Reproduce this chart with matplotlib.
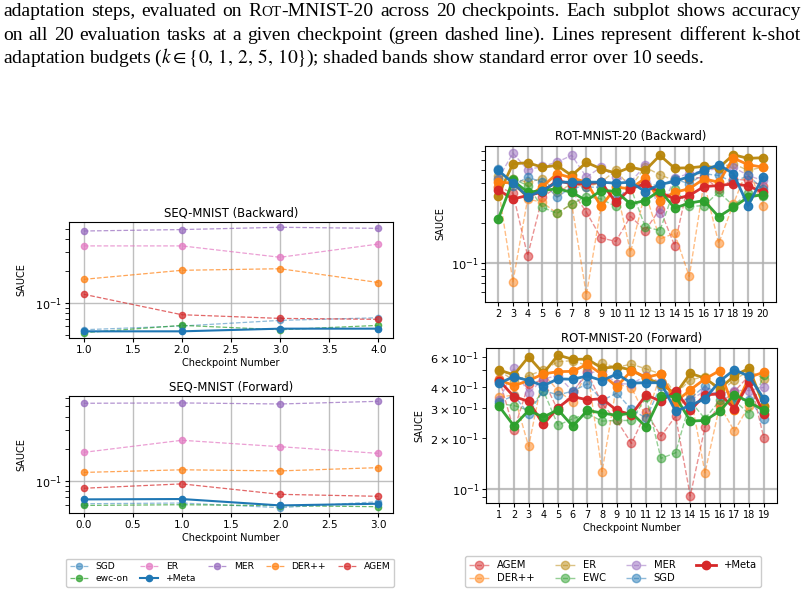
import numpy as np
import matplotlib
matplotlib.use('Agg')
import matplotlib.pyplot as plt
from matplotlib.lines import Line2D

W, H = 804, 593

# ---------------- SEQ-MNIST values ----------------
SEQ_BWD_X = [1.0, 2.0, 3.0, 4.0]
SEQ_BWD_SGD = [0.0556, 0.0603, 0.0681, 0.0721]
SEQ_BWD_EWC = [0.0521, 0.0611, 0.0556, 0.0611]
SEQ_BWD_ER = [0.343, 0.343, 0.268, 0.357]
SEQ_BWD_MER = [0.474, 0.489, 0.514, 0.502]
SEQ_BWD_DER = [0.166, 0.202, 0.209, 0.155]
SEQ_BWD_AGEM = [0.120, 0.077, 0.0711, 0.0697]
SEQ_BWD_META = [0.0537, 0.0537, 0.0569, 0.0569]

SEQ_FWD_X = [0.0, 1.0, 2.0, 3.0]
SEQ_FWD_SGD = [0.0611, 0.0620, 0.0561, 0.0638]
SEQ_FWD_EWC = [0.0589, 0.0598, 0.0586, 0.0573]
SEQ_FWD_ER = [0.185, 0.240, 0.209, 0.181]
SEQ_FWD_MER = [0.533, 0.537, 0.525, 0.556]
SEQ_FWD_DER = [0.120, 0.127, 0.124, 0.133]
SEQ_FWD_AGEM = [0.0853, 0.0937, 0.0748, 0.0717]
SEQ_FWD_META = [0.0671, 0.0676, 0.0589, 0.0611]

# ---------------- ROT-MNIST-20 values ----------------
ROT_BWD_X = list(range(2, 21))
ROT_BWD_AGEM = [0.376, 0.335, 0.113, 0.313, 0.372, 0.351, 0.241, 0.154, 0.145, 0.224,
                0.175, 0.255, 0.135, 0.430, 0.443, 0.362, 0.430, 0.418, 0.383]
ROT_BWD_DER = [0.372, 0.0718, 0.303, 0.286, 0.236, 0.278, 0.0572, 0.266, 0.383, 0.120,
               0.341, 0.151, 0.167, 0.0788, 0.406, 0.140, 0.278, 0.527, 0.267]
ROT_BWD_ER = [0.450, 0.430, 0.406, 0.430, 0.341, 0.394, 0.372, 0.406, 0.498, 0.372,
              0.527, 0.461, 0.418, 0.430, 0.498, 0.527, 0.559, 0.498, 0.527]
ROT_BWD_EWC = [0.430, 0.430, 0.383, 0.262, 0.236, 0.278, 0.316, 0.303, 0.266, 0.372,
               0.187, 0.175, 0.362, 0.266, 0.270, 0.341, 0.270, 0.335, 0.322]
ROT_BWD_MER = [0.430, 0.673, 0.503, 0.534, 0.575, 0.647, 0.443, 0.527, 0.443, 0.406,
               0.543, 0.236, 0.438, 0.470, 0.498, 0.512, 0.527, 0.456, 0.418]
ROT_BWD_SGD = [0.512, 0.383, 0.443, 0.406, 0.313, 0.372, 0.372, 0.372, 0.303, 0.372,
               0.394, 0.383, 0.430, 0.394, 0.470, 0.456, 0.406, 0.456, 0.362]
ROT_BWD_ER_META = [0.322, 0.559, 0.569, 0.527, 0.543, 0.456, 0.572, 0.512, 0.475, 0.527,
                   0.498, 0.647, 0.518, 0.521, 0.534, 0.521, 0.654, 0.614, 0.621]
ROT_BWD_DER_META = [0.406, 0.400, 0.313, 0.376, 0.470, 0.438, 0.406, 0.266, 0.372, 0.362,
                    0.435, 0.295, 0.341, 0.362, 0.430, 0.406, 0.617, 0.550, 0.527]
ROT_BWD_SGD_META = [0.498, 0.401, 0.316, 0.351, 0.406, 0.406, 0.406, 0.406, 0.399, 0.406,
                    0.345, 0.390, 0.411, 0.448, 0.498, 0.550, 0.470, 0.270, 0.443]
ROT_BWD_AGEM_META = [0.355, 0.303, 0.322, 0.341, 0.418, 0.394, 0.394, 0.406, 0.286, 0.362,
                     0.394, 0.341, 0.303, 0.322, 0.376, 0.383, 0.394, 0.381, 0.341]
ROT_BWD_EWC_META = [0.214, 0.418, 0.341, 0.351, 0.362, 0.341, 0.295, 0.351, 0.347, 0.278,
                    0.295, 0.351, 0.259, 0.282, 0.295, 0.223, 0.262, 0.313, 0.327]

ROT_FWD_X = list(range(1, 20))
ROT_FWD_AGEM = [0.446, 0.222, 0.417, 0.440, 0.291, 0.372, 0.488, 0.318, 0.254, 0.186,
                0.285, 0.205, 0.269, 0.0914, 0.233, 0.318, 0.376, 0.466, 0.201]
ROT_FWD_DER = [0.348, 0.359, 0.179, 0.477, 0.381, 0.326, 0.503, 0.127, 0.417, 0.395,
               0.266, 0.477, 0.291, 0.364, 0.125, 0.311, 0.220, 0.311, 0.311]
ROT_FWD_ER = [0.499, 0.436, 0.466, 0.503, 0.563, 0.571, 0.533, 0.550, 0.522, 0.545,
              0.510, 0.477, 0.364, 0.440, 0.460, 0.372, 0.440, 0.499, 0.446]
ROT_FWD_EWC = [0.318, 0.311, 0.291, 0.381, 0.238, 0.260, 0.278, 0.252, 0.254, 0.254,
               0.348, 0.152, 0.164, 0.330, 0.260, 0.333, 0.333, 0.278, 0.471]
ROT_FWD_MER = [0.333, 0.517, 0.368, 0.446, 0.466, 0.376, 0.481, 0.499, 0.417, 0.417,
               0.466, 0.426, 0.348, 0.333, 0.381, 0.364, 0.381, 0.381, 0.398]
ROT_FWD_SGD = [0.326, 0.356, 0.278, 0.381, 0.359, 0.378, 0.417, 0.333, 0.368, 0.295,
               0.262, 0.407, 0.333, 0.341, 0.407, 0.359, 0.330, 0.336, 0.260]
ROT_FWD_ER_META = [0.503, 0.471, 0.602, 0.481, 0.616, 0.581, 0.583, 0.515, 0.526, 0.503,
                   0.450, 0.417, 0.364, 0.481, 0.450, 0.390, 0.466, 0.515, 0.311]
ROT_FWD_DER_META = [0.440, 0.407, 0.436, 0.477, 0.492, 0.494, 0.545, 0.473, 0.402, 0.499,
                    0.456, 0.477, 0.326, 0.385, 0.446, 0.499, 0.294, 0.456, 0.488]
ROT_FWD_SGD_META = [0.421, 0.460, 0.436, 0.407, 0.446, 0.444, 0.464, 0.436, 0.477, 0.421,
                    0.424, 0.423, 0.288, 0.311, 0.341, 0.432, 0.505, 0.462, 0.341]
ROT_FWD_AGEM_META = [0.436, 0.351, 0.329, 0.241, 0.302, 0.351, 0.336, 0.341, 0.291, 0.275,
                     0.359, 0.329, 0.378, 0.291, 0.359, 0.364, 0.298, 0.426, 0.278]
ROT_FWD_EWC_META = [0.307, 0.236, 0.291, 0.266, 0.294, 0.235, 0.291, 0.281, 0.272, 0.281,
                    0.233, 0.353, 0.351, 0.252, 0.254, 0.288, 0.361, 0.326, 0.291]

C_BLUE, C_ORANGE, C_GREEN = '#1f77b4', '#ff7f0e', '#2ca02c'
C_RED, C_PURPLE, C_PINK, C_GOLD = '#d62728', '#9467bd', '#e377c2', '#b8860b'

LAB = 7
TITLE = 8.4

fig = plt.figure(figsize=(W / 100, H / 100), dpi=100)


def ax_px(x0, y0, x1, y1):
    return fig.add_axes([x0 / W, 1 - y1 / H, (x1 - x0) / W, (y1 - y0) / H])


def style(ax, title, xlabel, xtick=7.5, ytick=8, gridlw=1.0):
    ax.set_yscale('log')
    ax.set_title(title, fontsize=TITLE, pad=4)
    ax.set_ylabel('SAUCE', fontsize=LAB)
    if xlabel:
        ax.set_xlabel('Checkpoint Number', fontsize=LAB, labelpad=2)
    ax.tick_params(axis='x', labelsize=xtick, pad=2)
    ax.tick_params(axis='y', which='both', labelsize=ytick, pad=2)
    ax.tick_params(which='both', length=3)
    ax.grid(True, which='major', color='#b0b0b0', lw=gridlw, alpha=0.8)
    ax.set_axisbelow(True)


# ---- left column: SEQ-MNIST ----
def seq_panel(ax, x, sgd, ewc, er, mer, der, agem, meta, title):
    kw = dict(ls='--', lw=0.9, marker='o', ms=4.5, alpha=0.7)
    ax.plot(x, sgd, color=C_BLUE, label='SGD', **dict(kw, alpha=0.5))
    ax.plot(x, ewc, color=C_GREEN, label='ewc-on', **kw)
    ax.plot(x, er, color=C_PINK, label='ER', **kw)
    ax.plot(x, meta, color=C_BLUE, ls='-', lw=1.5, marker='o', ms=4.5, label='+Meta')
    ax.plot(x, mer, color=C_PURPLE, label='MER', **kw)
    ax.plot(x, der, color=C_ORANGE, label='DER++', **kw)
    ax.plot(x, agem, color=C_RED, label='AGEM', **kw)
    style(ax, title, True)
    ax.yaxis.labelpad = 6


ax1 = ax_px(69, 222, 393, 338)
seq_panel(ax1, SEQ_BWD_X, SEQ_BWD_SGD, SEQ_BWD_EWC, SEQ_BWD_ER, SEQ_BWD_MER,
          SEQ_BWD_DER, SEQ_BWD_AGEM, SEQ_BWD_META, 'SEQ-MNIST (Backward)')
ax2 = ax_px(69, 396, 393, 513)
seq_panel(ax2, SEQ_FWD_X, SEQ_FWD_SGD, SEQ_FWD_EWC, SEQ_FWD_ER, SEQ_FWD_MER,
          SEQ_FWD_DER, SEQ_FWD_AGEM, SEQ_FWD_META, 'SEQ-MNIST (Forward)')
h, l = ax1.get_legend_handles_labels()
fig.legend(h, l, loc='upper center', bbox_to_anchor=(230 / W, 1 - 554 / H), ncol=5,
           fontsize=6.6, handlelength=2.0, columnspacing=1.3, borderpad=0.4,
           labelspacing=0.3, framealpha=1, edgecolor='#cccccc')


# ---- right column: ROT-MNIST-20 ----
def rot_panel(ax, x, base, meta, title, xlabel):
    kw = dict(ls='--', lw=1.0, marker='o', ms=6, alpha=0.5)
    for vals, c in base:
        ax.plot(x, vals, color=c, **kw)
    for vals, c in meta:
        ax.plot(x, vals, color=c, ls='-', lw=2.0, marker='o', ms=6, alpha=0.95)
    style(ax, title, xlabel, xtick=7, ytick=8.2, gridlw=1.6)
    ax.set_xticks(x)


ax3 = ax_px(485, 146, 776, 302)
rot_panel(ax3, ROT_BWD_X,
          [(ROT_BWD_AGEM, C_RED), (ROT_BWD_DER, C_ORANGE), (ROT_BWD_ER, C_GOLD),
           (ROT_BWD_EWC, C_GREEN), (ROT_BWD_MER, C_PURPLE), (ROT_BWD_SGD, C_BLUE)],
          [(ROT_BWD_ER_META, C_GOLD), (ROT_BWD_DER_META, C_ORANGE),
           (ROT_BWD_AGEM_META, C_RED), (ROT_BWD_EWC_META, C_GREEN),
           (ROT_BWD_SGD_META, C_BLUE)],
          'ROT-MNIST-20 (Backward)', False)
ax4 = ax_px(486, 348, 777, 503)
rot_panel(ax4, ROT_FWD_X,
          [(ROT_FWD_AGEM, C_RED), (ROT_FWD_DER, C_ORANGE), (ROT_FWD_ER, C_GOLD),
           (ROT_FWD_EWC, C_GREEN), (ROT_FWD_MER, C_PURPLE), (ROT_FWD_SGD, C_BLUE)],
          [(ROT_FWD_ER_META, C_GOLD), (ROT_FWD_DER_META, C_ORANGE),
           (ROT_FWD_AGEM_META, C_RED), (ROT_FWD_EWC_META, C_GREEN),
           (ROT_FWD_SGD_META, C_BLUE)],
          'ROT-MNIST-20 (Forward)', True)

rot_names = ['AGEM', 'DER++', 'ER', 'EWC', 'MER', 'SGD']
rot_cols = [C_RED, C_ORANGE, C_GOLD, C_GREEN, C_PURPLE, C_BLUE]
handles = [Line2D([], [], color=c, ls='--', lw=1.0, marker='o', ms=6, alpha=0.5)
           for c in rot_cols]
handles.append(Line2D([], [], color=C_RED, ls='-', lw=2.0, marker='o', ms=6))
fig.legend(handles, rot_names + ['+Meta'], loc='upper center',
           bbox_to_anchor=(613 / W, 1 - 551 / H), ncol=4, fontsize=7.2,
           handlelength=2.0, columnspacing=2.0, borderpad=0.4, labelspacing=0.3,
           framealpha=1, edgecolor='#cccccc')

# ---- caption text from the page above the figure ----
SERIF = 'Liberation Serif'
CAP = 14.0
renderer = fig.canvas.get_renderer()


def put(s, x_px, y_px, size, **kw):
    return fig.text(x_px / W, 1 - y_px / H, s, fontsize=size, family=SERIF,
                    va='baseline', ha='left', **kw)


def justified(words, y_px, x0=3, x1=801):
    items = []
    for w in words:
        pieces = w if isinstance(w, list) else [(w, CAP)]
        texts = [put(s, 0, y_px, sz) for s, sz in pieces]
        widths = [t.get_window_extent(renderer).width for t in texts]
        items.append((texts, widths))
    total = sum(sum(ws) for _, ws in items)
    gap = (x1 - x0 - total) / (len(items) - 1)
    x = x0
    for texts, widths in items:
        for t, wd in zip(texts, widths):
            t.set_x(x / W)
            x += wd
        x += gap


rot = [('R', CAP), ('OT', CAP * 0.78), ('-MNIST-20', CAP)]
line1 = ['adaptation', 'steps,', 'evaluated', 'on', rot, 'across', '20', 'checkpoints.',
         'Each', 'subplot', 'shows', 'accuracy']
line2 = 'on all 20 evaluation tasks at a given checkpoint (green dashed line). ' \
        'Lines represent different k-shot'.split()
justified(line1, 16.5)
justified(line2, 39.5)
put(r'adaptation budgets ($k \in \{0,\,1,\,2,\,5,\,10\}$); shaded bands show standard '
    'error over 10 seeds.', 3, 62.5, CAP, math_fontfamily='stix')

fig.savefig('out.png', dpi=100)
